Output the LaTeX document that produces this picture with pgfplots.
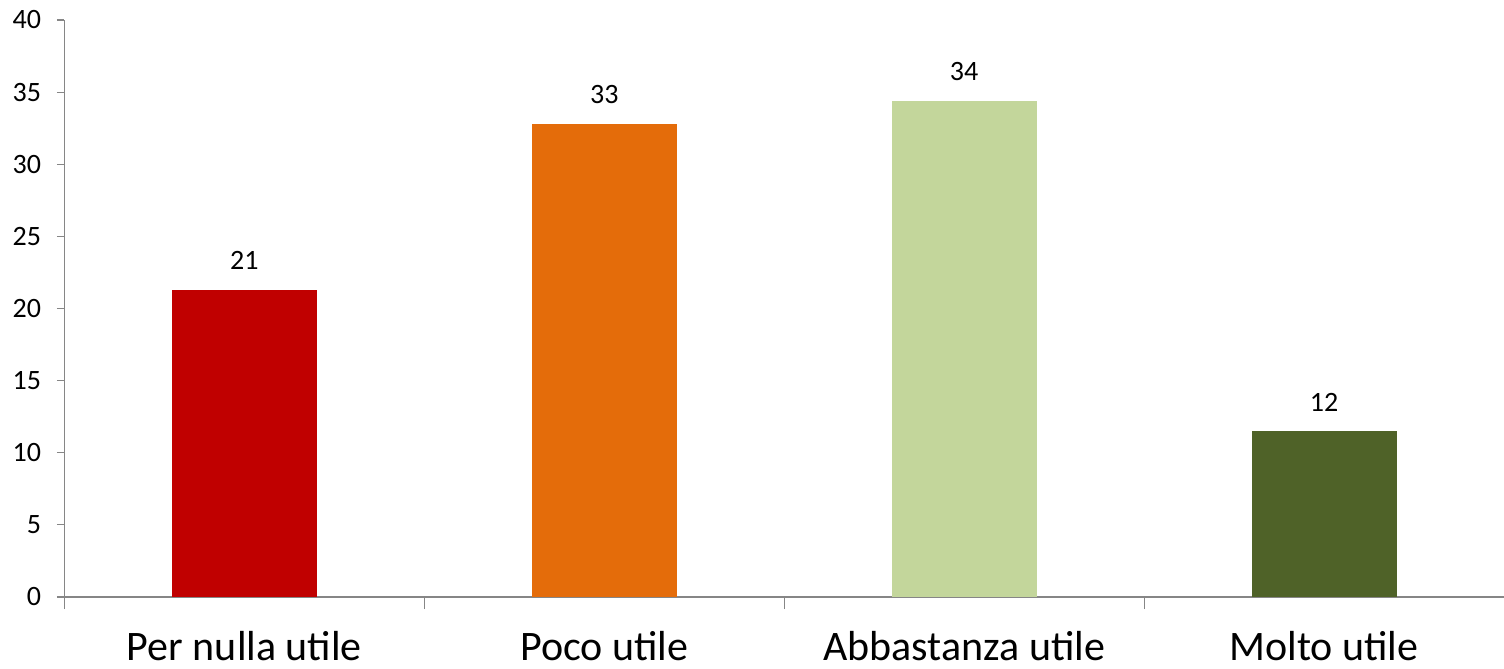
\documentclass[border=0pt]{standalone}
\usepackage{pgfplots}
\pgfplotsset{compat=1.18}
\usepackage{fontspec}
\setmainfont{Carlito}

\definecolor{axisgray}{HTML}{868686}
\definecolor{barred}{HTML}{C00000}
\definecolor{barorange}{HTML}{E46C0A}
\definecolor{barlight}{HTML}{C3D69B}
\definecolor{bardark}{HTML}{4F6228}

\begin{document}
\begin{tikzpicture}
\useasboundingbox (0,0) rectangle (752pt,334.5pt);
\begin{axis}[
    at={(32.25pt,36pt)}, anchor=south west,
    scale only axis,
    width=719.75pt, height=288.5pt,
    xmin=-0.5, xmax=3.5,
    ymin=0, ymax=40,
    % boundary ticks carry the marks, categories carry the labels
    xtick={-0.5,0.5,1.5,2.5},
    xticklabels={},
    extra x ticks={0,1,2,3},
    extra x tick labels={Per nulla utile, Poco utile, Abbastanza utile, Molto utile},
    extra x tick style={major tick length=0pt},
    ytick=\empty,
    extra y ticks={0,5,...,40},
    extra y tick style={major tick length=3.75pt},
    major tick length=6pt,
    axis lines*=left,
    axis line style={axisgray, line width=0.6pt},
    tick align=outside,
    tick style={axisgray, line width=0.6pt},
    xticklabel style={font=\fontsize{21}{25}\selectfont, anchor=base, inner sep=0pt, yshift=-31.5pt},
    yticklabel style={font=\fontsize{14}{17}\selectfont, anchor=east, inner sep=0pt, xshift=-7.75pt},
    /pgf/number format/assume math mode=true,
    ybar, bar width=72.5pt, bar shift=0pt,
    point meta=explicit symbolic,
    nodes near coords,
    nodes near coords style={font=\fontsize{14}{17}\selectfont, anchor=base, inner sep=0pt, yshift=10pt, black},
    clip=false,
]
\addplot[fill=barred, draw=none] coordinates {(0,21.3) [21]};
\addplot[fill=barorange, draw=none] coordinates {(1,32.8) [33]};
\addplot[fill=barlight, draw=none] coordinates {(2,34.4) [34]};
\addplot[fill=bardark, draw=none] coordinates {(3,11.5) [12]};
\end{axis}
\end{tikzpicture}
\end{document}
